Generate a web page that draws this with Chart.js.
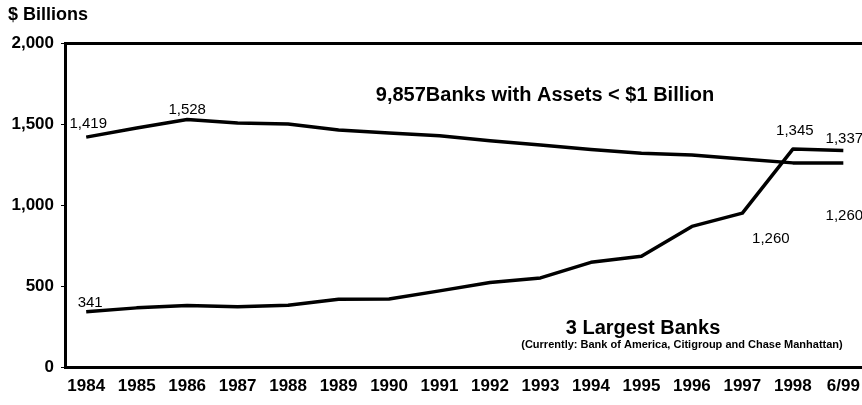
<!DOCTYPE html>
<html lang="en">
<head>
    <meta charset="UTF-8">
    <title>Bank Assets 1984 - 6/99</title>
    <script src="https://cdn.jsdelivr.net/npm/chart.js"></script>
    <style>
        html, body { margin: 0; padding: 0; background: #fff; overflow: hidden; }
        #wrap { position: relative; width: 862px; height: 405px; }
        #unidad { position: absolute; left: 8px; top: 4px; font: bold 18px "Liberation Sans", Arial, sans-serif; color: #000; }
    </style>
</head>
<body>
<div id="wrap">
    <div id="unidad">$ Billions</div>
    <canvas id="grafico" width="862" height="405"></canvas>
</div>
<script>
    const years = ["1984", "1985", "1986", "1987", "1988", "1989", "1990", "1991",
                   "1992", "1993", "1994", "1995", "1996", "1997", "1998", "6/99"];
    // $ billions
    const smallBanks = [1419, 1475, 1528, 1506, 1500, 1463, 1444, 1428,
                        1397, 1370, 1342, 1319, 1309, 1284, 1260, 1260];
    const bigBanks = [341, 365, 380, 372, 381, 418, 420, 470,
                      521, 550, 646, 683, 868, 950, 1345, 1337];
    const yTicks = [0, 500, 1000, 1500, 2000];

    const FONT = "'Liberation Sans', Arial, sans-serif";

    // which point gets a value label, and where the text sits relative to it
    const valueLabels = [
        { serie: 0, i: 0,  dx: 2,   dy: -9 },
        { serie: 0, i: 2,  dx: 0,   dy: -5 },
        { serie: 1, i: 0,  dx: 4,   dy: -5 },
        { serie: 1, i: 14, dx: 2,   dy: -14 },
        { serie: 1, i: 15, dx: 1,   dy: -7 },
        { serie: 0, i: 15, dx: 1,   dy: 57 },
        { serie: 0, i: 14, dx: -22, dy: 80 }
    ];

    const notes = [
        { text: "9,857Banks with Assets < $1 Billion", x: 545, y: 101, font: "bold 20px " + FONT },
        { text: "3 Largest Banks", x: 643, y: 334, font: "bold 20px " + FONT },
        { text: "(Currently: Bank of America, Citigroup and Chase Manhattan)", x: 682, y: 348, font: "bold 11px " + FONT }
    ];

    const series = [smallBanks, bigBanks];

    const textos = {
        id: "textos",
        afterDatasetsDraw(chart) {
            const c = chart.ctx;
            c.save();
            c.fillStyle = "#000";
            c.textAlign = "center";
            c.textBaseline = "alphabetic";
            c.font = "15px " + FONT;
            valueLabels.forEach(l => {
                const p = chart.getDatasetMeta(l.serie).data[l.i];
                const v = series[l.serie][l.i];
                c.fillText(v.toLocaleString("en-US"), p.x + l.dx, p.y + l.dy);
            });
            notes.forEach(n => {
                c.font = n.font;
                c.fillText(n.text, n.x, n.y);
            });
            c.restore();
        }
    };

    const linea = (label, values) => ({
        label: label,
        data: values.map((v, i) => ({ x: i, y: v })),
        borderColor: "#000",
        borderWidth: 3.5,
        pointRadius: 0,
        tension: 0,
        borderJoinStyle: "round"
    });

    // keep the plot running right up to the canvas edge
    const sinMargen = s => { s.paddingLeft = 0; s.paddingRight = 0; };

    const ctx = document.getElementById("grafico").getContext("2d");
    new Chart(ctx, {
        type: "line",
        data: {
            datasets: [
                linea("Banks with Assets < $1 Billion", smallBanks),
                linea("3 Largest Banks", bigBanks)
            ]
        },
        options: {
            responsive: false,
            animation: false,
            layout: { padding: { top: 43, right: 0, bottom: 0, left: 0 } },
            plugins: { legend: { display: false }, tooltip: { enabled: false } },
            scales: {
                x: {
                    type: "linear",
                    min: -0.42,
                    max: 15.37,
                    grid: { display: false, drawTicks: false },
                    border: { color: "#000", width: 3 },
                    ticks: {
                        stepSize: 1,
                        includeBounds: false,
                        autoSkip: false,
                        maxRotation: 0,
                        padding: 9,
                        color: "#000",
                        font: { family: FONT, size: 17, weight: "bold" },
                        callback: v => years[v] ?? ""
                    },
                    afterFit: s => { s.height = 38; sinMargen(s); }
                },
                x2: {
                    type: "linear",
                    position: "top",
                    min: 0,
                    max: 1,
                    grid: { display: false, drawTicks: false },
                    border: { color: "#000", width: 3 },
                    ticks: { display: false },
                    afterFit: s => { s.height = 0; sinMargen(s); }
                },
                y: {
                    min: 0,
                    max: 2000,
                    afterBuildTicks: s => { s.ticks = yTicks.map(v => ({ value: v })); },
                    grid: { drawOnChartArea: false, tickLength: 4, color: "#000" },
                    border: { color: "#000", width: 3 },
                    ticks: {
                        padding: 7,
                        color: "#000",
                        font: { family: FONT, size: 17, weight: "bold" },
                        callback: v => v.toLocaleString("en-US")
                    },
                    afterFit: s => { s.width = 65; }
                }
            }
        },
        plugins: [textos]
    });
</script>
</body>
</html>
